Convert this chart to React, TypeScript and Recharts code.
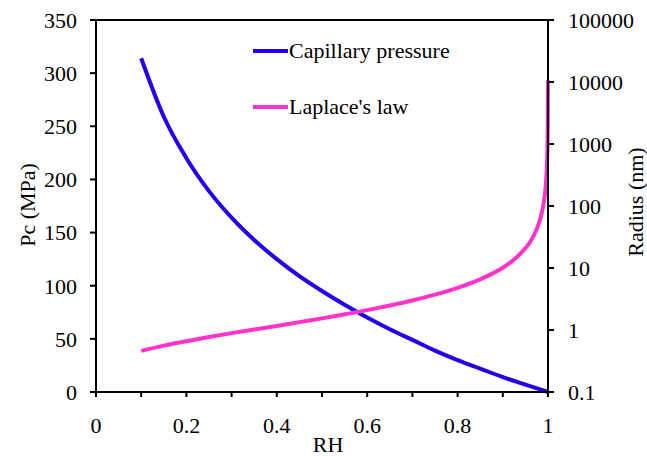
import React from 'react'
import { LineChart, Line, XAxis, YAxis, ReferenceLine } from 'recharts'

const pcRH = [0.1, 0.15, 0.2, 0.25, 0.3, 0.35, 0.4, 0.45, 0.5, 0.55, 0.6, 0.65, 0.7, 0.75, 0.8, 0.85, 0.9, 0.95, 1]
const pcValues = [314, 259, 220, 189, 164, 143, 125, 109, 95, 82, 70, 59, 49, 39, 30, 22, 14, 7, 0]

const radiusRH = [
  0.1, 0.15, 0.2, 0.25, 0.3, 0.35, 0.4, 0.45, 0.5, 0.55, 0.6, 0.65, 0.7, 0.75, 0.8, 0.85, 0.9,
  0.92, 0.94, 0.96, 0.97, 0.98, 0.985, 0.99, 0.993, 0.995, 0.997, 0.998, 0.999, 0.9995, 0.9999,
]
const radiusValues = [
  0.46, 0.56, 0.66, 0.77, 0.89, 1.02, 1.16, 1.34, 1.54, 1.79, 2.09, 2.48, 2.99, 3.71, 4.79, 6.57, 10.1,
  12.8, 17.3, 26, 35, 53, 71, 106, 152, 213, 355, 533, 1070, 2140, 10700,
]

const xTicks = [0, 0.1, 0.2, 0.3, 0.4, 0.5, 0.6, 0.7, 0.8, 0.9, 1]
const xTickLabels = ['0', '', '0.2', '', '0.4', '', '0.6', '', '0.8', '', '1']
const pcTicks = [0, 50, 100, 150, 200, 250, 300, 350]
const radiusTicks = [0.1, 1, 10, 100, 1000, 10000, 100000]

const seriesNames = ['Capillary pressure', "Laplace's law"]
const BLUE = '#2200ee'
const PINK = '#ff33cc'
const FONT = "'Liberation Serif', 'Times New Roman', serif"

const pcData = pcRH.map((rh, i) => ({ rh, pc: pcValues[i] }))
const radiusData = radiusRH.map((rh, i) => ({ rh, r: radiusValues[i] }))

const tickStyle = { fontSize: 22, fill: '#000', fontFamily: FONT }
const axisLine = { stroke: '#000', strokeWidth: 2 }
const tickLine = { stroke: '#000', strokeWidth: 2 }
const titleStyle = { fontFamily: FONT, fontSize: 22 }

export default function App() {
  // fixed at the page corner so the body margin doesn't push a scrollbar in
  return (
    <div style={{ position: 'fixed', left: 0, top: 0, fontFamily: FONT, background: '#fff' }}>
      <LineChart
        width={647}
        height={456}
        margin={{ top: 20, right: 39, bottom: 24, left: 36 }}
      >
        <XAxis
          dataKey="rh"
          type="number"
          domain={[0, 1]}
          ticks={xTicks}
          tickFormatter={(v, i) => xTickLabels[i] ?? ''}
          height={40}
          tick={tickStyle}
          tickSize={5}
          tickMargin={20}
          axisLine={axisLine}
          tickLine={tickLine}
          allowDuplicatedCategory={false}
        />
        <YAxis
          yAxisId="left"
          domain={[0, 350]}
          ticks={pcTicks}
          width={60}
          tick={tickStyle}
          tickSize={6}
          tickMargin={13}
          axisLine={axisLine}
          tickLine={tickLine}
          interval={0}
        />
        <YAxis
          yAxisId="right"
          orientation="right"
          scale="log"
          domain={[0.1, 100000]}
          ticks={radiusTicks}
          allowDataOverflow
          width={60}
          tick={tickStyle}
          tickSize={6}
          tickMargin={14}
          axisLine={axisLine}
          tickLine={tickLine}
          interval={0}
          tickFormatter={(v) => String(v)}
        />
        <ReferenceLine yAxisId="left" y={350} stroke="#000" strokeWidth={2} />
        <Line
          yAxisId="left"
          data={pcData}
          dataKey="pc"
          type="monotone"
          stroke={BLUE}
          strokeWidth={4}
          dot={false}
          isAnimationActive={false}
        />
        <Line
          yAxisId="right"
          data={radiusData}
          dataKey="r"
          type="monotone"
          stroke={PINK}
          strokeWidth={4}
          dot={false}
          isAnimationActive={false}
        />

        {/* legend */}
        <line x1={253} y1={51} x2={288} y2={51} stroke={BLUE} strokeWidth={4} />
        <text x={289} y={58} fill="#000" style={titleStyle}>{seriesNames[0]}</text>
        <line x1={253} y1={107} x2={288} y2={107} stroke={PINK} strokeWidth={4} />
        <text x={289} y={114} fill="#000" style={titleStyle}>{seriesNames[1]}</text>

        {/* axis titles */}
        <text
          x={27}
          y={205}
          fill="#000"
          style={titleStyle}
          textAnchor="middle"
          dominantBaseline="central"
          transform="rotate(-90, 27, 205)"
        >
          Pc (MPa)
        </text>
        <text
          x={635}
          y={202}
          fill="#000"
          style={titleStyle}
          textAnchor="middle"
          dominantBaseline="central"
          transform="rotate(-90, 635, 202)"
        >
          Radius (nm)
        </text>
        <text x={328} y={452} fill="#000" style={titleStyle} textAnchor="middle">
          RH
        </text>
      </LineChart>
    </div>
  )
}
